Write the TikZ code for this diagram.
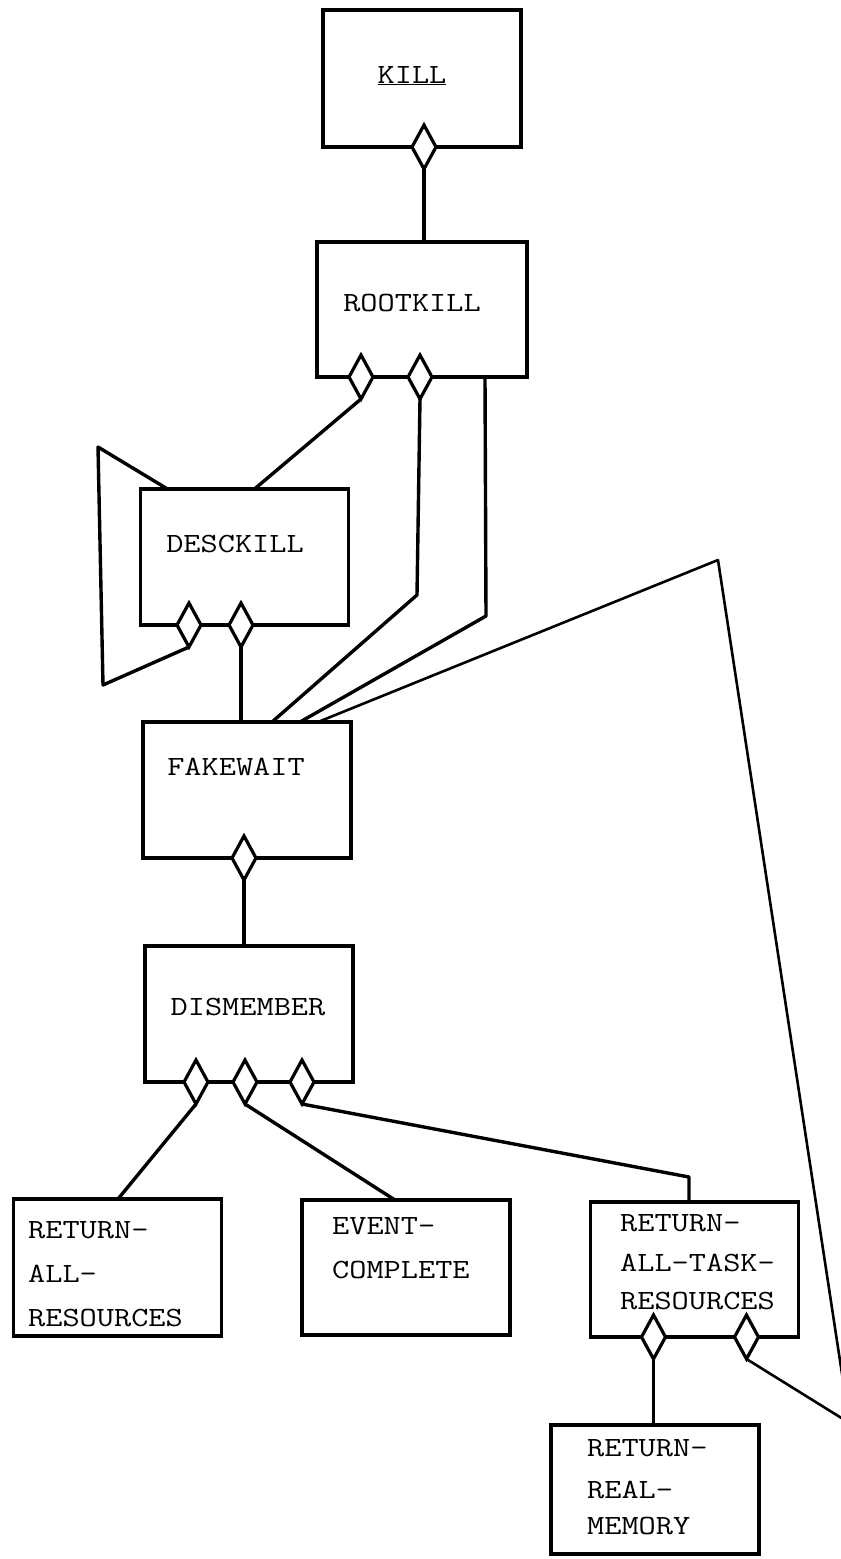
\documentclass[tikz,border=0pt]{standalone}
\usepackage{fontspec}
\newfontfamily\typefont[FakeStretch=1.2]{Latin Modern Mono}
\usetikzlibrary{calc,shapes.geometric}
\tikzset{
    module/.style={
        draw,
        line width=3.4pt,
        minimum width=208pt,
        minimum height=136pt,
        inner sep=0pt,
        outer sep=0pt
    },
    joint/.style={
        diamond,
        draw,
        fill=white,
        line width=3.2pt,
        minimum width=24pt,
        minimum height=44pt,
        inner sep=0pt,
        outer sep=0pt
    },
    link/.style={
        line width=3.4pt,
        line join=round
    },
    backlink/.style={
        line width=2.6pt,
        line join=round
    },
    modname/.style={
        font=\typefont\fontsize{27.8}{44}\selectfont,
        inner sep=0pt,
        align=left
    }
}

\begin{document}
\begin{tikzpicture}[x=1pt,y=-1pt]

    \useasboundingbox (0,0) rectangle (841,1559);
    \clip (0,0) rectangle (841,1559);

    % Modules
    \node[module,minimum width=198pt,minimum height=137pt] (kill) at (422,78.5) {};
    \node[module,minimum width=210pt,minimum height=135pt] (root) at (422,309.5) {};
    \node[module] (desc) at (244.5,557) {};
    \node[module] (fake) at (247,790) {};
    \node[module] (dism) at (249,1014) {};
    \node[module,minimum height=137pt] (rar) at (117.5,1267.5) {};
    \node[module,minimum height=135pt] (ec) at (406,1267.5) {};
    \node[module,minimum height=135pt] (ratr) at (694.5,1269.5) {};
    \node[module,minimum height=129pt] (rrm) at (655,1489.5) {};

    % Names
    \node[modname,anchor=base] (killname) at (412,83) {\underline{KILL}};
    \node[modname,anchor=base] (rootname) at (412,311) {ROOTKILL};
    \node[modname,anchor=base] (descname) at (235,552) {DESCKILL};
    \node[modname,anchor=base] (fakename) at (236,775) {FAKEWAIT};
    \node[modname,anchor=base] (dismname) at (248,1015) {DISMEMBER};
    \node[modname,anchor=north west] (rarname) at (28,1221)
        {RETURN-\\ALL-\\RESOURCES};
    \node[modname,anchor=north west] (ecname) at (332,1217)
        {EVENT-\\COMPLETE};
    \node[modname,anchor=north west] (ratrname) at (620,1214)
        {RETURN-\\[-4pt]ALL-TASK-\\[-6pt]RESOURCES};
    \node[modname,anchor=north west] (rrmname) at (587,1439)
        {RETURN-\\[-2pt]REAL-\\[-8pt]MEMORY};

    % Joints
    \node[joint] (kd) at ($(kill.south west)+(101,0)$) {};
    \node[joint] (rd1) at ($(root.south west)+(44,0)$) {};
    \node[joint] (rd2) at ($(root.south west)+(103,0)$) {};
    \node[joint] (dd1) at ($(desc.south west)+(48.5,0)$) {};
    \node[joint] (dd2) at ($(desc.south west)+(100.5,0)$) {};
    \node[joint] (fd) at ($(fake.south west)+(101,0)$) {};
    \node[joint] (md1) at ($(dism.south west)+(51,0)$) {};
    \node[joint] (md2) at ($(dism.south west)+(100,0)$) {};
    \node[joint] (md3) at ($(dism.south west)+(157,0)$) {};
    \node[joint] (td1) at ($(ratr.south west)+(63,0)$) {};
    \node[joint] (td2) at ($(ratr.south west)+(156,0)$) {};

    % Bends
    \coordinate (rootbend) at (417,595);
    \coordinate (rootleg) at ($(root.south east)+(-42,0)$);
    \coordinate (legbend) at (486,616);
    \coordinate (loopup) at (98,447);
    \coordinate (loopdown) at (103,685);
    \coordinate (taskbend) at (689,1177);
    \coordinate (apex) at (718,560);
    \coordinate (corner) at (849.5,1423);

    % KILL -> ROOTKILL
    \draw[link] (kd.south) -- (kd.south |- root.north);

    % ROOTKILL -> DESCKILL, FAKEWAIT
    \draw[link] (rd1.south) -- ($(desc.north)+(10,0)$);
    \draw[link] (rd2.south) -- (rootbend) -- ($(fake.north west)+(129,0)$);
    \draw[link] (rootleg) -- (legbend) -- ($(fake.north west)+(157,0)$);

    % DESCKILL -> DESCKILL
    \draw[link] (dd1.south) -- (loopdown) -- (loopup) -- ($(desc.north west)+(27,0)$);

    % DESCKILL -> FAKEWAIT
    \draw[link] (dd2.south) -- (dd2.south |- fake.north);

    % FAKEWAIT -> DISMEMBER
    \draw[link] (fd.south) -- (fd.south |- dism.north);

    % DISMEMBER -> children
    \draw[link] (md1.south) -- ($(rar.north)+(0.5,0)$);
    \draw[link] (md2.south) -- ($(ec.north west)+(93,0)$);
    \draw[link] (md3.south) -- (taskbend) -- (taskbend |- ratr.north);

    % RETURN-ALL-TASK-RESOURCES -> RETURN-REAL-MEMORY
    \draw[link] (td1.south) -- (td1.south |- rrm.north);

    % back to FAKEWAIT
    \draw[backlink] (td2.south) -- (corner) -- (apex) -- ($(fake.north west)+(175,0)$);

\end{tikzpicture}
\end{document}
